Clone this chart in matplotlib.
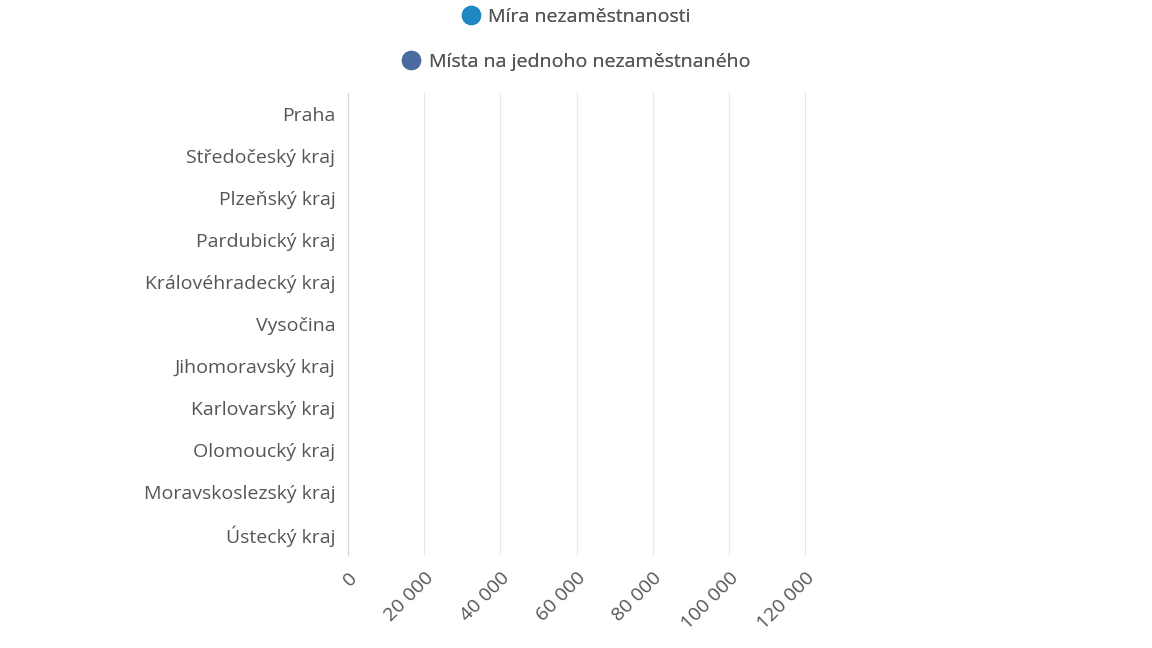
import numpy as np
import matplotlib.pyplot as plt
from matplotlib.ticker import FuncFormatter

plt.rcParams['font.family'] = ['Open Sans', 'DejaVu Sans']

# Data (chart shown at its first frame, bars not yet grown)
regions = ["Praha", "Středočeský kraj", "Plzeňský kraj", "Pardubický kraj",
           "Královéhradecký kraj", "Vysočina", "Jihomoravský kraj",
           "Karlovarský kraj", "Olomoucký kraj", "Moravskoslezský kraj",
           "Ústecký kraj"]
unemployment = [0, 0, 0, 0, 0, 0, 0, 0, 0, 0, 0]
jobs_per_unemployed = [0, 0, 0, 0, 0, 0, 0, 0, 0, 0, 0]
x_ticks = [0, 20000, 40000, 60000, 80000, 100000, 120000]
series_names = ["Míra nezaměstnanosti", "Místa na jednoho nezaměstnaného"]
series_colors = ["#1f88c2", "#4a6aa0"]

fig = plt.figure(figsize=(11.52, 6.48), dpi=100)
fig.patch.set_facecolor("white")
ax = fig.add_axes([348 / 1152, 1 - 555 / 648, (806 - 348) / 1152, (555 - 93) / 648])

y = np.arange(len(regions))
h = 0.35
ax.barh(y - h / 2, unemployment, height=h, color=series_colors[0])
ax.barh(y + h / 2, jobs_per_unemployed, height=h, color=series_colors[1])

ax.set_xlim(0, 120200)
ax.set_ylim(len(regions) - 0.5, -0.5)
ax.set_yticks(y)
ax.set_yticklabels(regions)
ax.set_xticks(x_ticks)
ax.xaxis.set_major_formatter(FuncFormatter(lambda v, p: f"{int(v):,}".replace(",", " ")))

for lbl in ax.get_xticklabels():
    lbl.set_rotation(45)
    lbl.set_ha("right")
    lbl.set_rotation_mode("anchor")

ax.tick_params(axis="y", length=0, labelsize=14, labelcolor="#555555", pad=9)
ax.tick_params(axis="x", length=0, labelsize=14, labelcolor="#555555", pad=10)

ax.grid(axis="x", color="#e8e8e8", linewidth=0.9)
ax.set_axisbelow(True)
for side in ["top", "right", "bottom"]:
    ax.spines[side].set_visible(False)
ax.spines["left"].set_color("#d8d8d8")
ax.spines["left"].set_linewidth(0.9)

# Legend: two centred entries stacked
for i, (name, col) in enumerate(zip(series_names, series_colors)):
    handle = plt.Line2D([], [], marker="o", linestyle="", markersize=13, color=col)
    leg = fig.legend([handle], [name], loc="center", bbox_to_anchor=(0.5, 1 - (17 + 45 * i) / 648),
                     frameon=False, fontsize=14, handletextpad=0.4, handlelength=1.0,
                     labelcolor="#555555")
    fig.add_artist(leg)

fig.savefig("out.png", dpi=100, facecolor="white")
